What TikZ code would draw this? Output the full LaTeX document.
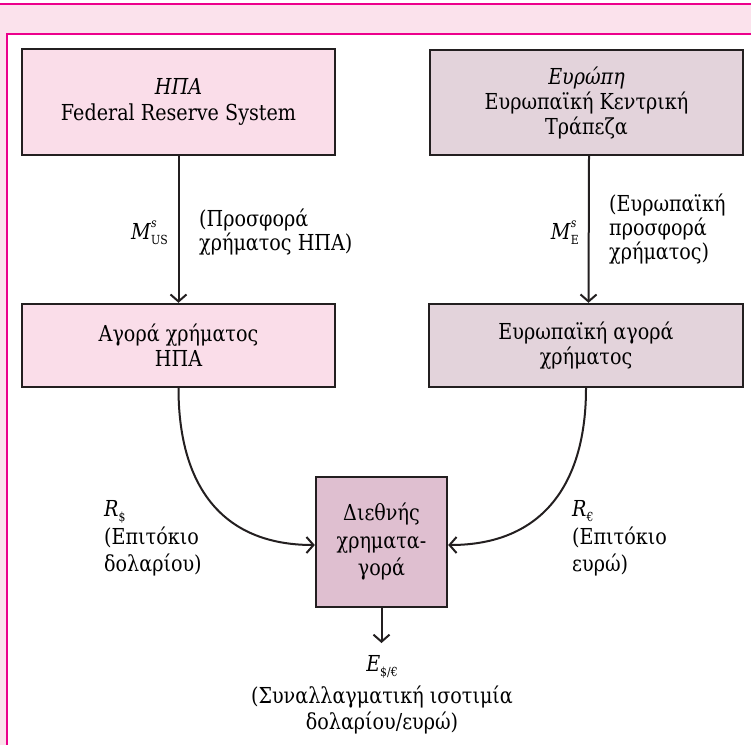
\documentclass[tikz,border=0pt]{standalone}
\usepackage{fontspec}
\setmainfont{DejaVu Serif}[FakeStretch=0.87]
\usetikzlibrary{arrows.meta}
\definecolor{magframe}{RGB}{236,0,140}
\definecolor{bandfill}{RGB}{251,226,236}
\definecolor{pinkbox}{RGB}{250,221,233}
\definecolor{mauvebox}{RGB}{227,211,219}
\definecolor{intlbox}{RGB}{223,191,208}
\definecolor{linec}{RGB}{35,31,32}
\newcommand{\subsm}[1]{\raisebox{-0.5ex}{\fontsize{12.5}{12.5}\selectfont #1}}
\newcommand{\supsm}[1]{\rlap{\raisebox{1.0ex}{\fontsize{12.5}{12.5}\selectfont\itshape #1}}}
\begin{document}
\begin{tikzpicture}[x=1pt,y=-1pt,
  box/.style={draw=linec, line width=2.4pt, inner sep=0pt, align=center,
    font=\fontsize{22}{25}\selectfont},
  lbl/.style={inner sep=0pt, align=left, font=\fontsize{22}{24}\selectfont},
  arr/.style={draw=linec, line width=2pt, -{Straight Barb[length=7pt,width=16pt,line width=2pt]}}]
\useasboundingbox (0,0) rectangle (751,745);
% frame
\fill[bandfill] (0,4) rectangle (751,33.5);
\fill[bandfill] (0,33.5) rectangle (5.5,745);
\draw[magframe, line width=1.5pt] (0,4) -- (751,4);
\draw[magframe, line width=2pt] (751,33.5) -- (6.5,33.5) -- (6.5,745);
% boxes
\node[box, fill=pinkbox, minimum width=313pt, minimum height=106pt,
  font=\fontsize{22}{26.5}\selectfont] (usfed) at (178.5,102)
  {\textit{ΗΠΑ}\\Federal Reserve System};
\node[box, fill=mauvebox, minimum width=313pt, minimum height=105pt] (euecb) at (586.5,102.5)
  {\textit{Ευρώπη}\\Ευρωπαϊκή Κεντρική\\Τράπεζα};
\node[box, fill=pinkbox, minimum width=313pt, minimum height=83pt] (usmm) at (178.5,345.5)
  {Αγορά χρήματος\\ΗΠΑ};
\node[box, fill=mauvebox, minimum width=314pt, minimum height=83pt] (eumm) at (586,345.5)
  {Ευρωπαϊκή αγορά\\χρήματος};
\node[box, fill=intlbox, minimum width=131pt, minimum height=130pt,
  font=\fontsize{22}{27.5}\selectfont] (intl) at (381.5,542)
  {Διεθνής\\χρηματα-\\γορά};
% connectors
\draw[arr] (usfed.south) -- (usmm.north);
\draw[arr] ([xshift=2.5pt]euecb.south) -- ([xshift=2.5pt]eumm.north);
\draw[arr] (usmm.south) .. controls +(0pt,-95pt) and +(-95pt,0pt) .. ([yshift=-3pt]intl.west);
\draw[arr] (eumm.south) .. controls +(0pt,-95pt) and +(95pt,0pt) .. ([yshift=-3pt]intl.east);
\coordinate (etip) at (381.5,643);
\draw[arr] (intl.south) -- (etip);
% labels
\node[lbl, anchor=east] (msus) at (168,233) {\textit{M}\supsm{s}\subsm{US}};
\node[lbl, anchor=west] (msustxt) at (199,232) {(Προσφορά\\χρήματος ΗΠΑ)};
\node[lbl, anchor=east] (mse) at (579,233) {\textit{M}\supsm{s}\subsm{E}};
\node[lbl, anchor=west] (msetxt) at (609,229) {(Ευρωπαϊκή\\προσφορά\\χρήματος)};
\node[lbl, anchor=north west, font=\fontsize{22}{27}\selectfont] (rd) at (104,500)
  {\textit{R}\subsm{\$}\\[1pt](Επιτόκιο\\δολαρίου)};
\node[lbl, anchor=north west, font=\fontsize{22}{27}\selectfont] (re) at (572,500)
  {\textit{R}\subsm{€}\\[1pt](Επιτόκιο\\ευρώ)};
\node[lbl, align=center, anchor=north, font=\fontsize{22}{25.5}\selectfont] (ex) at (382,655)
  {\textit{E}\subsm{\$/€}\\[7pt](Συναλλαγματική ισοτιμία\\δολαρίου/ευρώ)};
\end{tikzpicture}
\end{document}
